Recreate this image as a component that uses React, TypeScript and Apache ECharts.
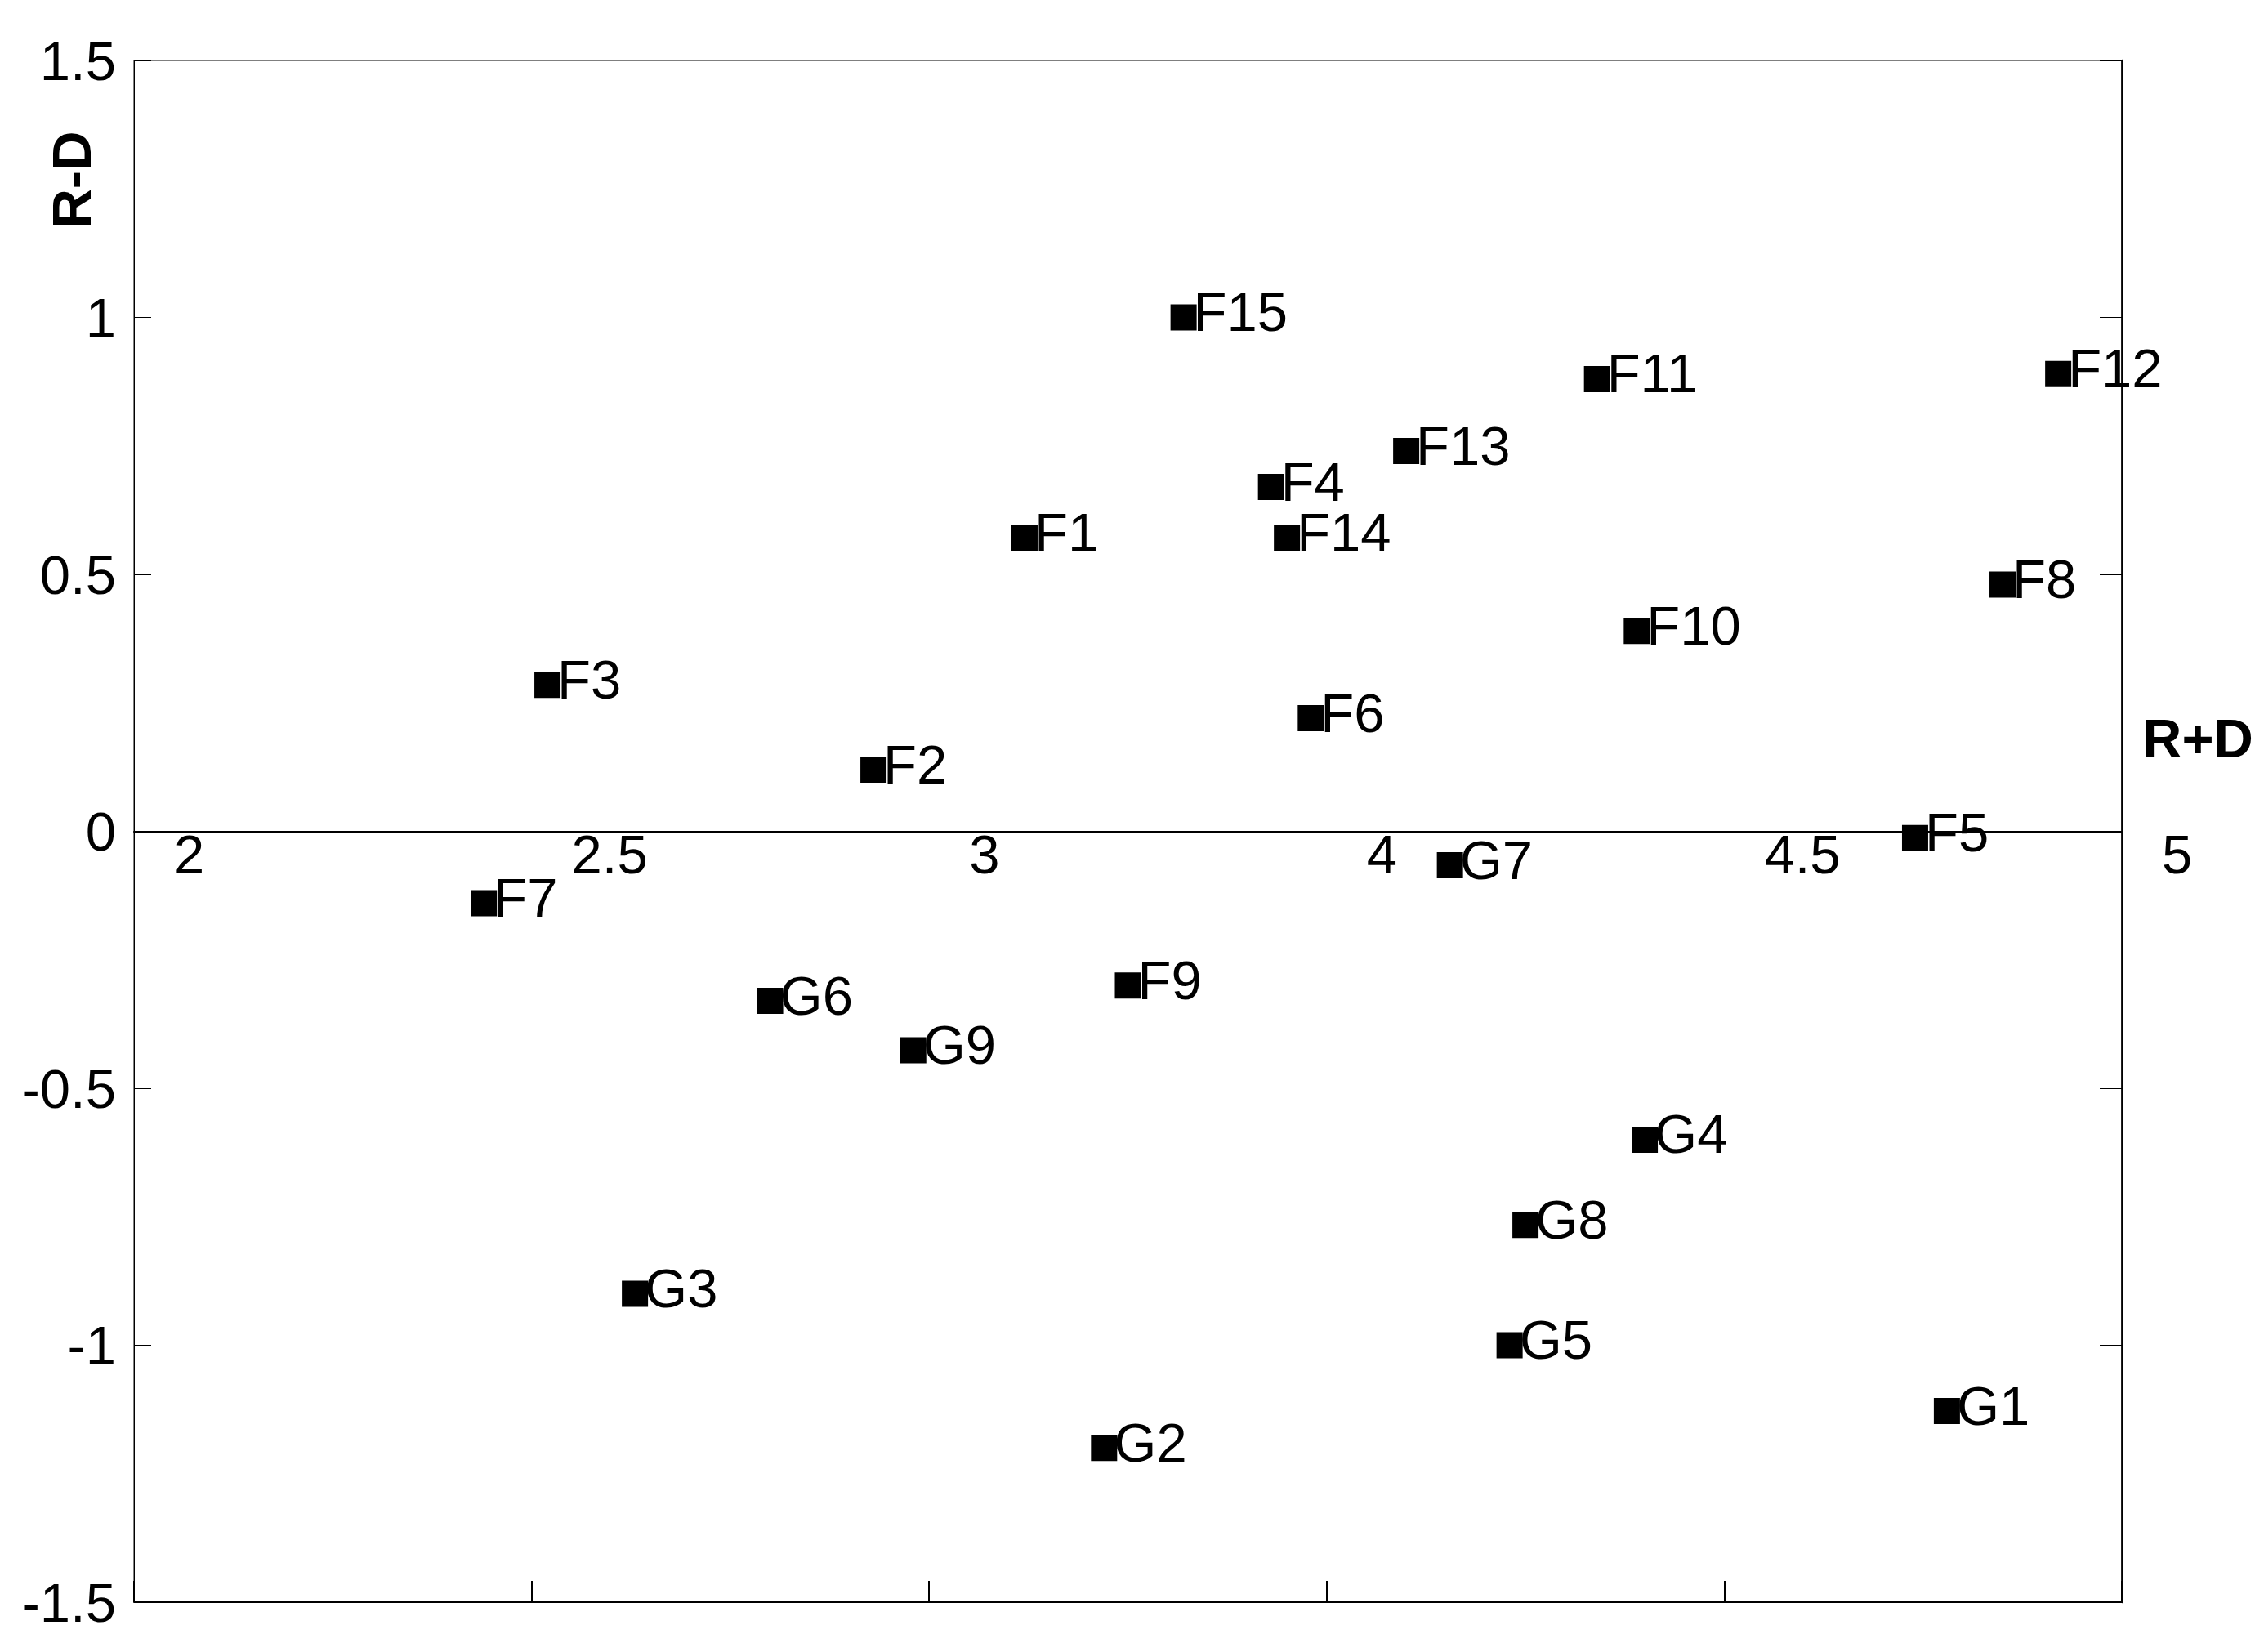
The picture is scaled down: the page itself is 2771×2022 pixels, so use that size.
import React, { useEffect, useRef } from "react";
import * as echarts from "echarts";

// Point names and coordinates (x = R+D axis position, y = R-D)
const names = [
  "F1", "F2", "F3", "F4", "F5", "F6", "F7", "F8", "F9", "F10", "F11", "F12", "F13", "F14", "F15",
  "G1", "G2", "G3", "G4", "G5", "G6", "G7", "G8", "G9",
];
const xValues = [
  3.12, 2.93, 2.52, 3.43, 4.24, 3.48, 2.44, 4.35, 3.25, 3.89, 3.84, 4.42, 3.6, 3.45, 3.32,
  4.28, 3.22, 2.63, 3.9, 3.73, 2.8, 3.655, 3.75, 2.98,
];
const yValues = [
  0.57, 0.12, 0.285, 0.67, -0.013, 0.22, -0.14, 0.48, -0.3, 0.39, 0.88, 0.89, 0.74, 0.57, 1.0,
  -1.128, -1.2, -0.9, -0.6, -1.0, -0.33, -0.066, -0.766, -0.426,
];
// x tick labels as printed in the original figure
const xTickLabels = ["2", "2.5", "3", "4", "4.5", "5"];
const xMin = 2;
const xMax = 4.5;
const xStep = 0.5;
const yMin = -1.5;
const yMax = 1.5;
const yStep = 0.5;

const FONT = "'Liberation Sans', Arial, sans-serif";
const FS = 67;

export default function App() {
  const ref = useRef<HTMLDivElement>(null);
  useEffect(() => {
    if (!ref.current) return;
    const chart = echarts.init(ref.current, null, { renderer: "svg" });
    const data = names.map((n, i) => ({ name: n, value: [xValues[i], yValues[i]] }));
    const gridLeft = 164;
    const gridTop = 74;
    const gridW = 2433;
    const gridH = 1887;
    // pixel offset of the y = 0 line from the top edge of the plot
    const zeroOffset = (gridH * (yMax - 0)) / (yMax - yMin);
    chart.setOption({
      animation: false,
      backgroundColor: "#fff",
      textStyle: { fontFamily: FONT },
      grid: {
        left: gridLeft,
        top: gridTop,
        width: gridW,
        height: gridH,
        containLabel: false,
        outerBoundsMode: "none",
        show: true,
        borderColor: "#000",
        borderWidth: 1,
        backgroundColor: "transparent",
      },
      xAxis: [
        {
          type: "value",
          position: "bottom",
          min: xMin,
          max: xMax,
          interval: xStep,
          axisLine: { show: true, onZero: false, lineStyle: { color: "#000", width: 2 } },
          axisTick: { show: true, inside: true, length: 26, lineStyle: { color: "#000", width: 2 } },
          axisLabel: { show: false },
          splitLine: { show: false },
        },
        {
          type: "value",
          position: "top",
          offset: -zeroOffset,
          min: xMin,
          max: xMax,
          interval: xStep,
          axisLine: { show: true, onZero: false, lineStyle: { color: "#000", width: 2 } },
          axisTick: { show: false },
          axisLabel: {
            show: true,
            inside: true,
            margin: -6,
            align: "left",
            padding: [0, 0, 0, 49],
            fontSize: FS,
            fontFamily: FONT,
            color: "#000",
            showMinLabel: true,
            showMaxLabel: true,
            formatter: (v: number) => {
              const idx = Math.round((v - xMin) / xStep);
              return xTickLabels[idx] ?? "";
            },
          },
          splitLine: { show: false },
        },
      ],
      yAxis: [
        {
          type: "value",
          position: "left",
          min: yMin,
          max: yMax,
          interval: yStep,
          axisLine: { show: true, onZero: false, lineStyle: { color: "#000", width: 1 } },
          axisTick: { show: true, inside: true, length: 21, lineStyle: { color: "#000", width: 1 } },
          axisLabel: { show: true, margin: 22, fontSize: FS, fontFamily: FONT, color: "#000" },
          splitLine: { show: false },
        },
        {
          type: "value",
          position: "right",
          min: yMin,
          max: yMax,
          interval: yStep,
          axisLine: { show: true, onZero: false, lineStyle: { color: "#000", width: 2.5 } },
          axisTick: { show: true, inside: true, length: 27, lineStyle: { color: "#000", width: 1 } },
          axisLabel: { show: false },
          splitLine: { show: false },
        },
      ],
      series: [
        {
          type: "scatter",
          xAxisIndex: 0,
          yAxisIndex: 0,
          symbol: "rect",
          symbolSize: 32,
          itemStyle: { color: "#000", opacity: 1 },
          data,
          label: {
            show: true,
            position: "right",
            distance: -4,
            offset: [0, -7],
            formatter: "{b}",
            fontSize: FS,
            lineHeight: 54,
            fontFamily: FONT,
            color: "#000",
          },
          emphasis: { disabled: true },
        },
      ],
      graphic: [
        {
          type: "text",
          x: 87,
          y: 220,
          rotation: Math.PI / 2,
          style: {
            text: "R-D",
            fontSize: FS,
            fontWeight: "bold",
            fontFamily: FONT,
            fill: "#000",
            align: "center",
            verticalAlign: "middle",
          },
        },
        {
          type: "text",
          x: 2622,
          y: 903,
          style: {
            text: "R+D",
            fontSize: FS,
            fontWeight: "bold",
            fontFamily: FONT,
            fill: "#000",
            align: "left",
            verticalAlign: "middle",
          },
        },
      ],
    });
    return () => chart.dispose();
  }, []);
  return (
    <div
      ref={ref}
      style={{ position: "absolute", left: 0, top: 0, width: 2771, height: 2022, background: "#fff" }}
    />
  );
}
